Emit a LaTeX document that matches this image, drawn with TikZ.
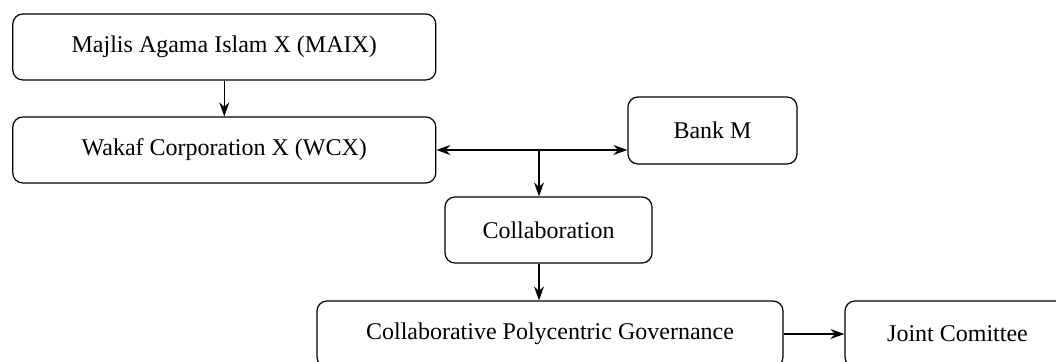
\documentclass[tikz,border=0pt]{standalone}
\usepackage{fontspec}
\setmainfont{Liberation Serif}
\usetikzlibrary{arrows.meta}

\tikzset{
	box/.style = {draw, rounded corners = 5pt, line width = 0.6pt, align = center,
		font = \fontsize{12}{14}\selectfont, inner sep = 0pt},
	flow/.style = {line width = 0.6pt, -{Stealth[length = 7pt, width = 5pt]}}
}

\begin{document}
\begin{tikzpicture} [x = 0.5pt, y = -0.5pt]
	\useasboundingbox (0,0) rectangle (1056,362);
	\node [box, minimum width = 211.5pt, minimum height = 33pt] (maix) at (224.3,47) {Majlis Agama Islam X (MAIX)};
	\node [box, minimum width = 211.5pt, minimum height = 33pt] (wcx) at (224.3,150) {Wakaf Corporation X (WCX)};
	\node [box, minimum width = 84.5pt, minimum height = 33.5pt] (bank) at (712.5,130.5) {Bank M};
	\node [box, minimum width = 103.5pt, minimum height = 33pt] (collab) at (548.5,230) {Collaboration};
	\node [box, minimum width = 233pt, minimum height = 33pt] (cpg) at (550,334) {Collaborative Polycentric Governance};
	\node [box, minimum width = 112.5pt, minimum height = 33pt] (joint) at (957.5,334) {Joint Comittee};
	\coordinate (split) at (539,150);
	\draw [flow] (maix) -- (wcx);
	\draw [flow, {Stealth[length = 7pt, width = 5pt]}-{Stealth[length = 7pt, width = 5pt]}] (wcx.east) -- (wcx.east -| bank.west);
	\draw [flow] (split) -- (split |- collab.north);
	\draw [flow] (split |- collab.south) -- (split |- cpg.north);
	\draw [flow] (cpg) -- (joint);
	%\node at (500,20) {draft};
\end{tikzpicture}
\end{document}
